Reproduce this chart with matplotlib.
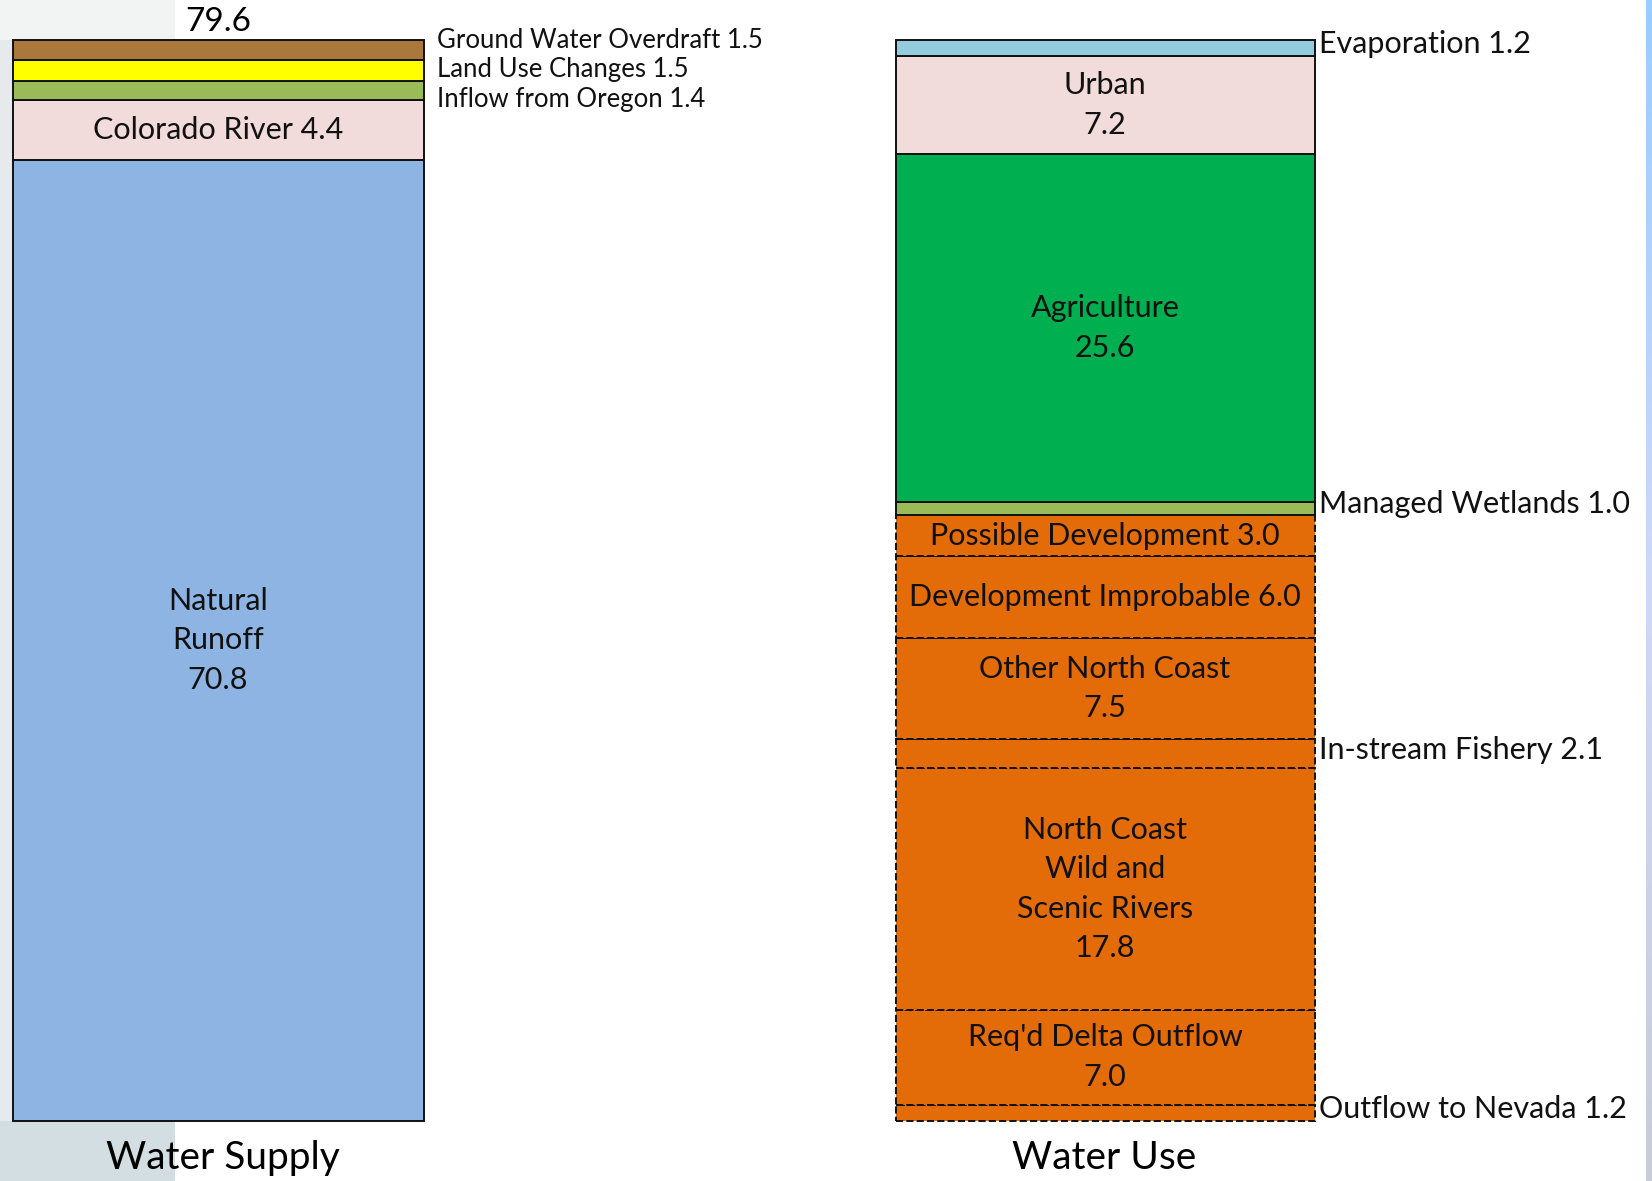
import matplotlib.pyplot as plt
import numpy as np
from matplotlib.colors import LinearSegmentedColormap

plt.rcParams['font.family'] = ['Lato', 'DejaVu Sans']

# ---- data (stacked bottom -> top) ----
supply_names = ["Natural\nRunoff", "Colorado River", "Inflow from Oregon",
                "Land Use Changes", "Ground Water Overdraft"]
supply_vals = [70.8, 4.4, 1.4, 1.5, 1.5]
supply_colors = ["#8EB4E3", "#F2DCDB", "#9BBB59", "#FFFF00", "#AA783C"]
supply_mode = ["stack", "inline", "side", "side", "side"]

use_names = ["Outflow to Nevada", "Req'd Delta Outflow",
             "North Coast\nWild and\nScenic Rivers", "In-stream Fishery",
             "Other North Coast", "Development Improbable", "Possible Development",
             "Managed Wetlands", "Agriculture", "Urban", "Evaporation"]
use_vals = [1.2, 7.0, 17.8, 2.1, 7.5, 6.0, 3.0, 1.0, 25.6, 7.2, 1.2]
use_colors = ["#E36C09"] * 7 + ["#9BBB59", "#00B050", "#F2DCDB", "#93CDDD"]
use_mode = ["side", "stack", "stack", "side", "stack", "inline", "inline",
            "side", "stack", "stack", "side"]
use_dashed = [True] * 7 + [False] * 4

W, H = 1652, 1181
fig = plt.figure(figsize=(W / 100, H / 100), dpi=100)
ax = fig.add_axes([0, 0, 1, 1])
ax.set_xlim(0, W)
# y in data units: 0 at pixel 1121 (from top), total at pixel 40
ppu = (1121 - 40) / 79.6
ax.set_ylim(-(H - 1121) / ppu, 79.6 + 40 / ppu)
ax.axis("off")

# faint background bits (left photo strip, right blue border)
ax.add_patch(plt.Rectangle((0, -(H - 1121) / ppu), 175, (H - 1121) / ppu,
                           color="#D3DEE3", zorder=0, lw=0))
ax.add_patch(plt.Rectangle((0, 0), 12, 82.6, color="#E6EAEC", zorder=0, lw=0))
ax.add_patch(plt.Rectangle((0, 79.6), 175, 3.0, color="#F2F3F3", zorder=0, lw=0))
grad = LinearSegmentedColormap.from_list("edge", ["#99CCFF", "#D0D8F8", "#C8CCD8"])
ax.imshow(np.linspace(0, 1, 100).reshape(-1, 1), cmap=grad, aspect="auto",
          extent=(1646, W, ax.get_ylim()[0], ax.get_ylim()[1]), zorder=0)

lx, lw_ = 218, 411
rx, rw = 1105, 419
fs = 22


def draw_stack(xc, width, names, vals, colors, modes, dashed, side_x, side_fs, side_pos=None):
    bottom = 0
    for i, (n, v, c, m) in enumerate(zip(names, vals, colors, modes)):
        ls = "--" if dashed[i] else "-"
        ax.bar(xc, v, width=width, bottom=bottom, color=c, edgecolor="#111111",
               linewidth=1.4, linestyle=ls, zorder=2)
        mid = bottom + v / 2
        if m == "stack":
            ax.text(xc, mid, f"{n}\n{v:.1f}", ha="center", va="center",
                    fontsize=fs, linespacing=1.5, color="#111111", zorder=3)
        elif m == "inline":
            ax.text(xc, mid, f"{n} {v:.1f}", ha="center", va="center",
                    fontsize=fs, color="#111111", zorder=3)
        else:
            y = side_pos[i] if side_pos else mid + 0.3
            ax.text(side_x, y, f"{n} {v:.1f}", ha="left", va="center",
                    fontsize=side_fs, color="#111111", zorder=3)
        bottom += v
    return bottom


total = sum(supply_vals)
sp = {2: total - 4.37, 3: total - 2.2, 4: total - 0.05}
draw_stack(lx, lw_, supply_names, supply_vals, supply_colors, supply_mode,
           [False] * 5, 437, 18.5, sp)
draw_stack(rx, rw, use_names, use_vals, use_colors, use_mode, use_dashed,
           1319, fs)

ax.text(lx, total + 1.35, f"{total:.1f}", ha="center", va="center", fontsize=24)
ax.text(223, -2.7, "Water Supply", ha="center", va="center", fontsize=28)
ax.text(1104, -2.7, "Water Use", ha="center", va="center", fontsize=28)

plt.savefig("out.png", dpi=100)
